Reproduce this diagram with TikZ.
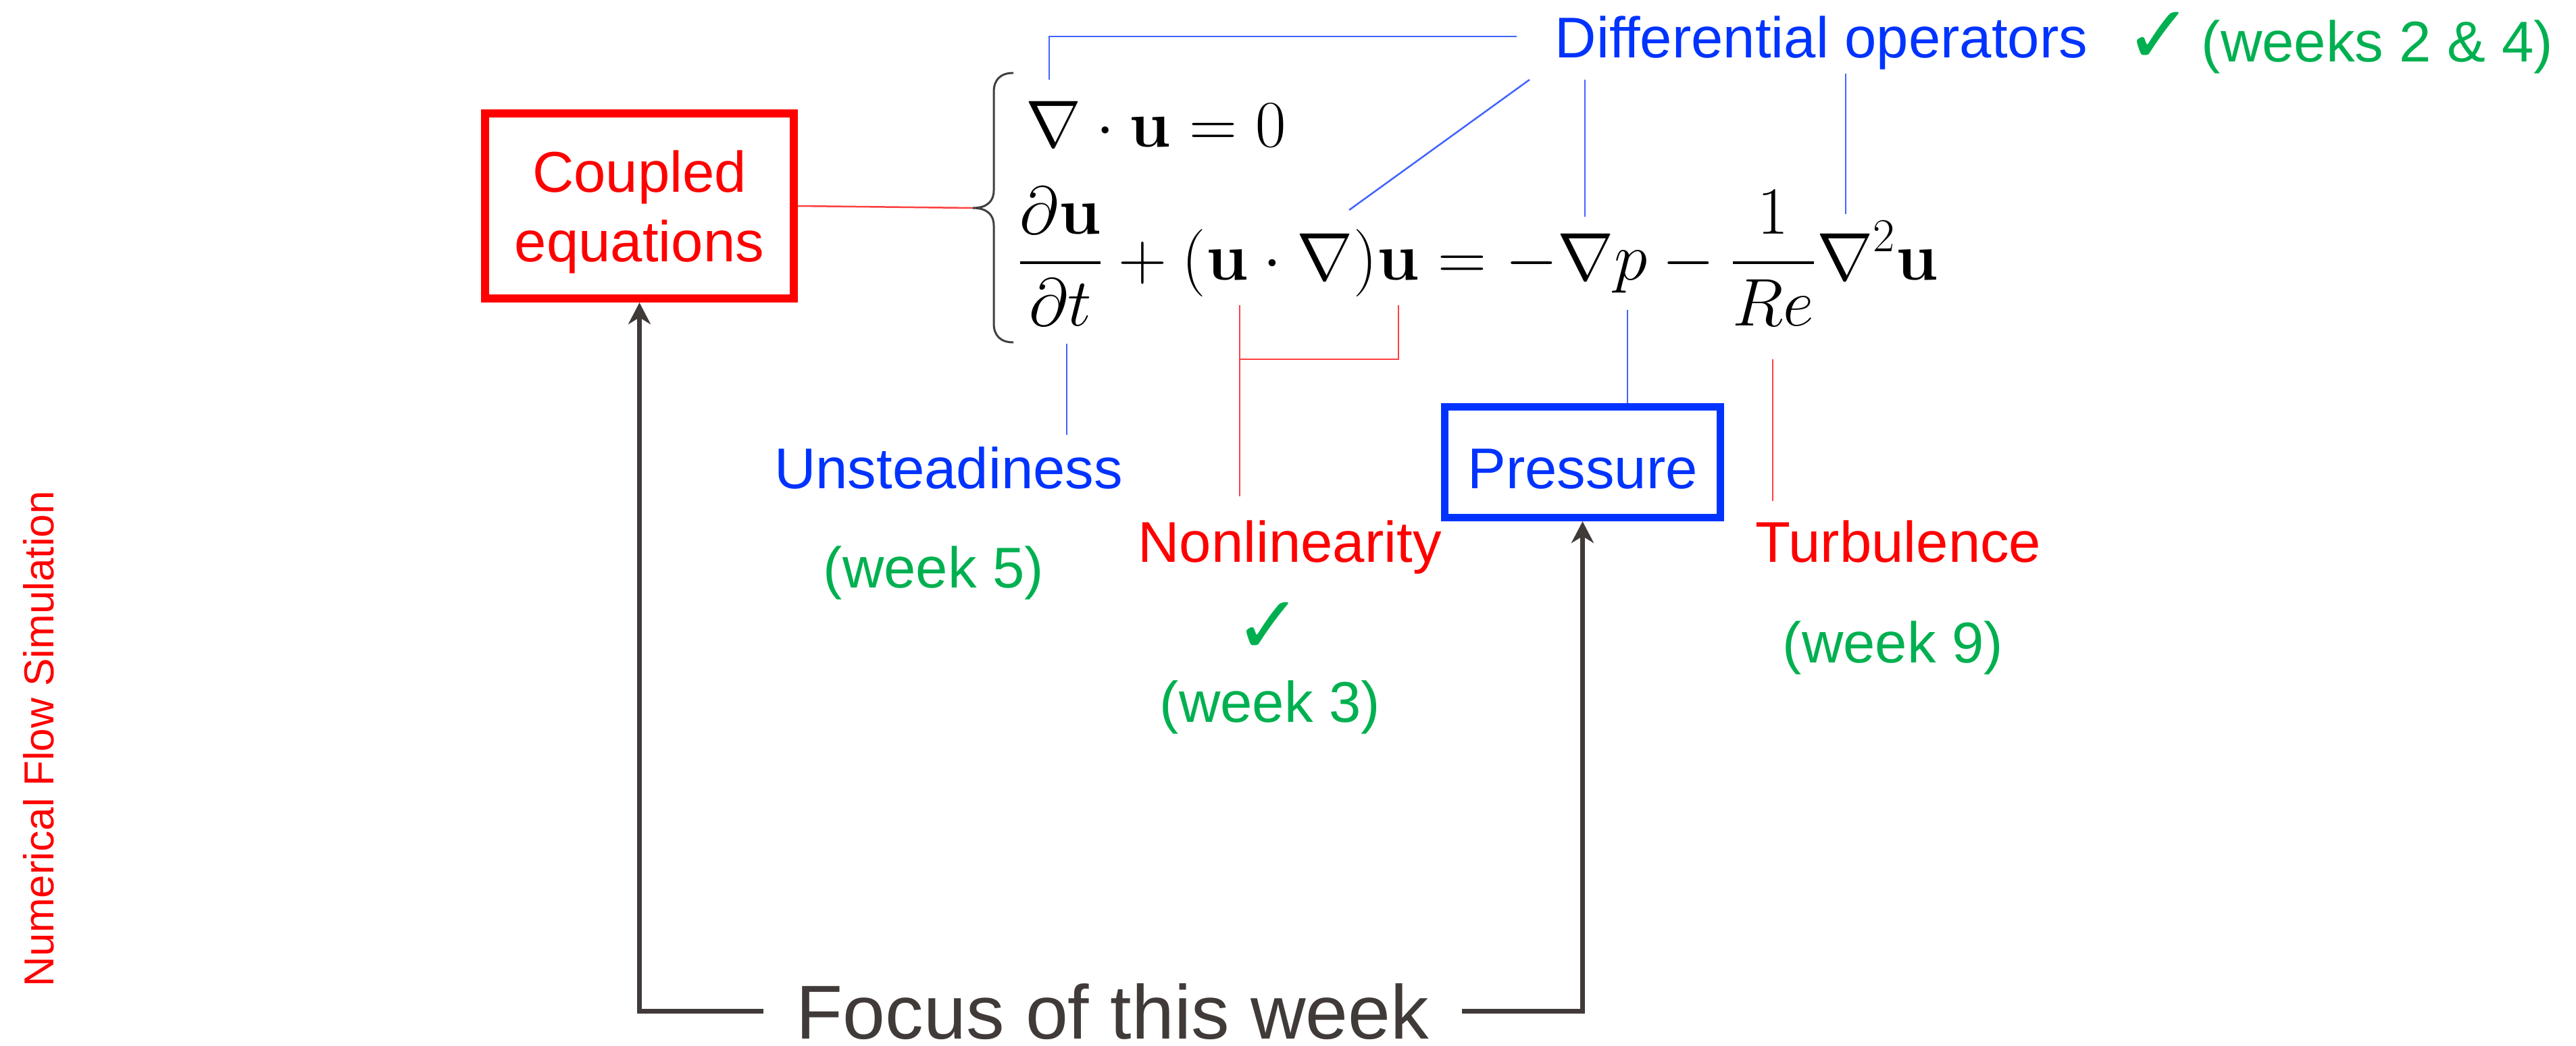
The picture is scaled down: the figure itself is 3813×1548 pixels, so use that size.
\RequirePackage{fix-cm}
\documentclass[tikz,border=0pt]{standalone}
\usepackage{amsmath}
\usepackage[no-math]{fontspec}
\newfontfamily\lblfam{Liberation Sans}
\newfontfamily\chkfam{DejaVu Sans}
\usetikzlibrary{arrows.meta}
\definecolor{txtblue}{RGB}{0,51,255}
\definecolor{txtred}{RGB}{255,0,0}
\definecolor{txtgreen}{RGB}{0,176,80}
\definecolor{txtgray}{RGB}{64,58,56}
\definecolor{lnblue}{RGB}{64,100,255}
\definecolor{lnred}{RGB}{255,64,64}
\definecolor{bracegray}{RGB}{64,64,64}
\tikzset{
  lbl/.style={font={\lblfam\fontsize{24.2}{29.3}\selectfont}, inner sep=0pt},
  focuslbl/.style={font={\lblfam\fontsize{32.15}{38}\selectfont}, text=txtgray, inner ysep=0pt, inner xsep=0.48cm, text depth=0pt},
  sidelbl/.style={font={\lblfam\fontsize{17.64}{21}\selectfont}, inner sep=0pt, text=txtred},
  chk/.style={font={\chkfam\fontsize{34}{38}\selectfont}, inner sep=0pt, text=txtgreen},
  mth/.style={font={\fontsize{28}{34}\selectfont}, inner sep=0pt},
  mthb/.style={font={\fontsize{28.4}{34}\selectfont}, inner sep=0pt},
  box/.style={draw, rectangle, inner sep=0pt, font={\lblfam\fontsize{24.2}{29.3}\selectfont}},
  bline/.style={draw=lnblue, line width=0.025cm},
  rline/.style={draw=lnred, line width=0.025cm},
  arr/.style={draw=txtgray, line width=0.07cm, -{Stealth[length=0.32cm, width=0.33cm, inset=0.1cm]}},
}
\begin{document}
\begin{tikzpicture}[x=0.01cm, y=-0.01cm]
\useasboundingbox (0,0) rectangle (3813,1548);

% side title
\node[sidelbl, rotate=90, anchor=base] (nfs) at (79,1094) {Numerical Flow Simulation};

% boxes
\node[box, draw=txtred, text=txtred, line width=0.12cm, minimum width=4.57cm, minimum height=2.74cm, align=center, text depth=0pt] (coupled) at (946.5,305) {Coupled\\equations};
\node[box, draw=txtblue, text=txtblue, line width=0.115cm, minimum width=4.075cm, minimum height=1.635cm, text height=0.77cm, text depth=0pt] (pressure) at (2342.5,684.5) {Pressure};

% equations
\node[mth, anchor=base west] (eq1) at (1518,217) {$\displaystyle\nabla\cdot\mathbf{u}=0$};
\node[mthb, anchor=base west] (eq2) at (1505,414) {$\displaystyle\frac{\partial\mathbf{u}}{\partial t}+(\mathbf{u}\cdot\nabla)\mathbf{u}=-\nabla p-\frac{1}{Re}\nabla^2\mathbf{u}$};

% brace
\coordinate (bracetip) at (1440,308);
\draw[bracegray, line width=0.03cm] (1500,108) .. controls (1481,108) and (1471,118) .. (1471,136) -- (1471,282) .. controls (1471,298) and (1461,308) .. (bracetip) .. controls (1461,308) and (1471,318) .. (1471,334) -- (1471,479) .. controls (1471,497) and (1481,507) .. (1500,507);
\draw[rline] (coupled.east) -- (bracetip);

% labels
\node[lbl, text=txtblue, anchor=base, inner xsep=0.56cm, text depth=0pt] (diffop) at (2696,85) {Differential operators};
\node[chk] (chktop) at (3196,56) {✓};
\node[lbl, text=txtgreen, anchor=base west] (wk24) at (3258,91) {(weeks 2 \& 4)};

\node[lbl, text=txtblue, anchor=base] (unsteady) at (1404,723) {Unsteadiness};
\node[lbl, text=txtgreen, anchor=base] (wk5) at (1382,870) {(week 5)};
\node[lbl, text=txtred, anchor=base] (nonlin) at (1909,832) {Nonlinearity};
\node[chk] (chkmid) at (1878,930) {✓};
\node[lbl, text=txtgreen, anchor=base] (wk3) at (1880,1069) {(week 3)};
\node[lbl, text=txtred, anchor=base] (turb) at (2810,832) {Turbulence};
\node[lbl, text=txtgreen, anchor=base] (wk9) at (2802,981) {(week 9)};

\node[focuslbl, anchor=base] (focus) at (1647,1538) {Focus of this week};

% blue connectors from differential operators
\coordinate (dA) at (1553,118);
\coordinate (dB1) at (2264,118);
\coordinate (dB2) at (1997,311);
\coordinate (dC1) at (2346,118);
\coordinate (dC2) at (2346,321);
\coordinate (dD1) at (2732,109);
\coordinate (dD2) at (2732,317);
\draw[bline] (diffop.west) -| (dA);
\draw[bline] (dB1) -- (dB2);
\draw[bline] (dC1) -- (dC2);
\draw[bline] (dD1) -- (dD2);

% lower connectors
\coordinate (uA) at (1579,509);
\coordinate (uB) at (1579,644);
\draw[bline] (uA) -- (uB);
\coordinate (nA) at (1835,452);
\coordinate (nB) at (2070,452);
\coordinate (nC) at (2070,532);
\coordinate (nD) at (1835,532);
\coordinate (nE) at (1835,735);
\draw[rline] (nB) -- (nC) -- (nD);
\draw[rline] (nA) -- (nE);
\coordinate (pA) at (2409,459);
\draw[bline] (pA) -- (pA |- pressure.north);
\coordinate (tA) at (2624,532);
\coordinate (tB) at (2624,742);
\draw[rline] (tA) -- (tB);

% focus arrows
\draw[arr] (focus.west) -| (coupled.south);
\draw[arr] (focus.east) -| (pressure.south);
\end{tikzpicture}
\end{document}
